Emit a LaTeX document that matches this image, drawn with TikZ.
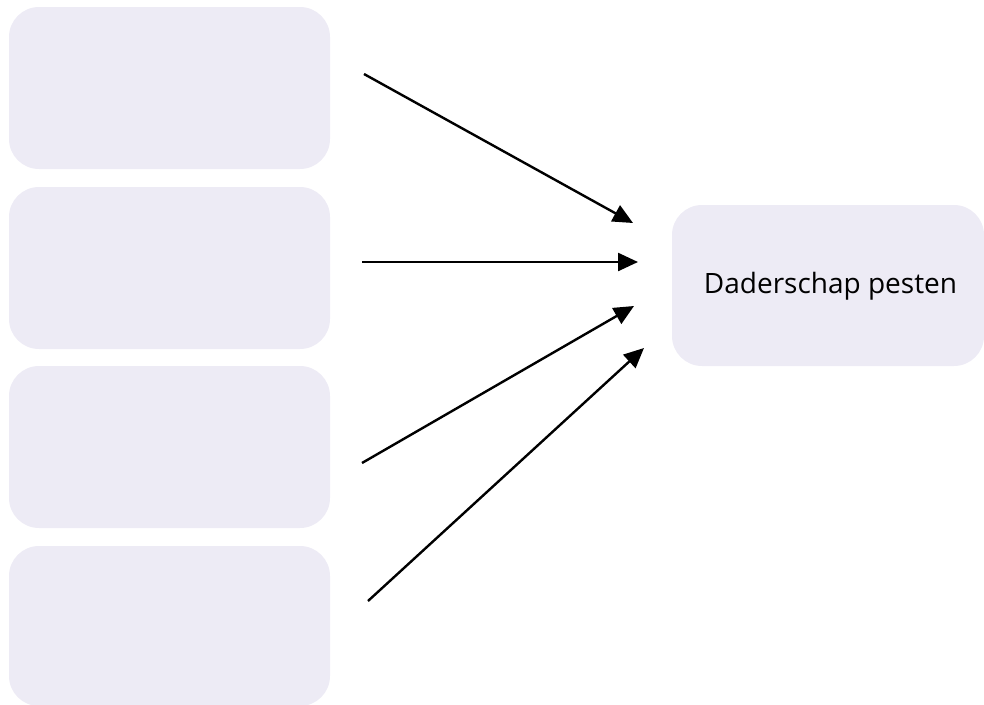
\documentclass[tikz,border=0pt]{standalone}
\usepackage{fontspec}
\setmainfont{Open Sans}
\usetikzlibrary{arrows.meta}
\definecolor{boxfill}{RGB}{237,235,245}
\tikzset{
  srcbox/.style={fill=boxfill, draw=none, rounded corners=30pt, inner sep=0pt, outer sep=0pt, minimum width=321pt, minimum height=162pt},
  tgtbox/.style={fill=boxfill, draw=none, rounded corners=30pt, inner sep=0pt, outer sep=0pt, minimum width=312pt, minimum height=161pt},
  conn/.style={line width=2.4pt, -{Triangle[length=20pt,width=18pt]}},
}
\begin{document}
\begin{tikzpicture}[x=1pt,y=-1pt]
\useasboundingbox (0,0) rectangle (984,704);
\node[srcbox] (b1) at (169.5,88) {};
\node[srcbox] (b2) at (169.5,268) {};
\node[srcbox] (b3) at (169.5,447) {};
\node[srcbox, minimum height=160pt] (b4) at (169.5,626) {};
\node[tgtbox] (tbox) at (828,285.5) {};
\node[inner sep=0pt, anchor=base, font=\fontsize{28}{34}\selectfont] (target) at (830.5,293) {Daderschap pesten};
\coordinate (s1) at (364,74);
\coordinate (t1) at (633,223);
\coordinate (s2) at (362,262);
\coordinate (t2) at (638,262);
\coordinate (s3) at (362,463);
\coordinate (t3) at (634,306);
\coordinate (s4) at (368,601);
\coordinate (t4) at (644,348);
\draw[conn] (s1) -- (t1);
\draw[conn] (s2) -- (t2);
\draw[conn] (s3) -- (t3);
\draw[conn] (s4) -- (t4);
\end{tikzpicture}
\end{document}
